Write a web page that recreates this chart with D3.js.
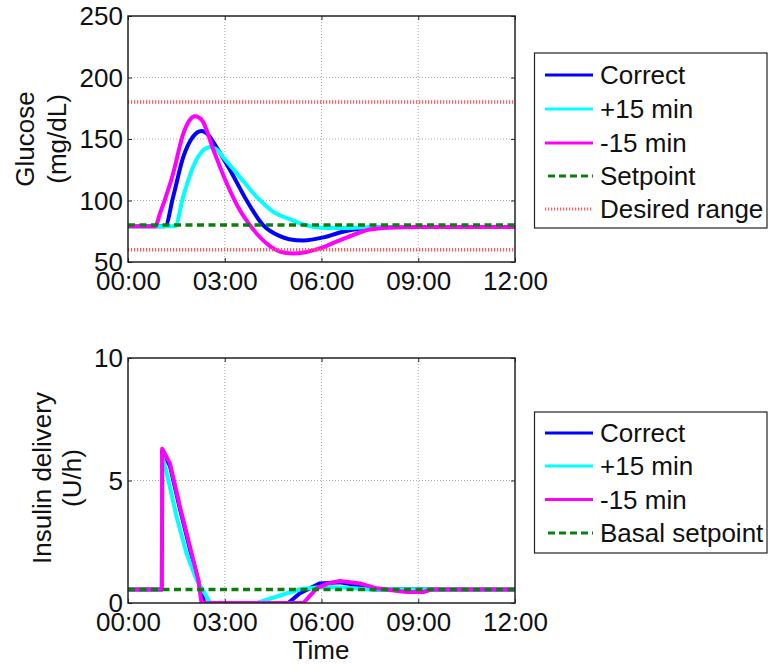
<!DOCTYPE html>
<html>
<head>
<meta charset="utf-8">
<script src="https://cdn.jsdelivr.net/npm/d3@7"></script>
<style>
  html, body { margin: 0; padding: 0; background: #fff; }
  svg { display: block; }
  text { font-family: "Liberation Sans", Arial, sans-serif; fill: #111; }
</style>
</head>
<body>
<svg id="chart" width="769" height="665"></svg>
<script>
// ---------------- DATA ----------------
const timeTicks = [0, 3, 6, 9, 12];
const timeTickLabels = ["00:00", "03:00", "06:00", "09:00", "12:00"];
const glucoseTicks = [50, 100, 150, 200, 250];
const insulinTicks = [0, 5, 10];

const seriesNames = ["Correct", "+15 min", "-15 min"];
const seriesColors = ["#0000ff", "#00ffff", "#ff00ff"];

const glucoseSetpoint = 80;
const desiredRange = [60, 180];
const basalSetpoint = 0.55;

// glucose [time h, mg/dL]
const glucoseCorrect = [
  [0, 79], [1.15, 79], [1.4, 103], [1.71, 135], [2.02, 152], [2.28, 156.5], [2.5, 153],
  [2.75, 143], [3.16, 125], [3.68, 100], [4.19, 80], [4.71, 71], [5.0, 68.5], [5.43, 67.5],
  [6.06, 70], [6.57, 74], [7.0, 76.5], [7.7, 78.3], [9, 78.5], [12, 78.5]
];
const glucosePlus15 = [
  [0, 79], [1.46, 79], [1.71, 103], [2.02, 127.5], [2.34, 141], [2.54, 143.5], [2.75, 141.5],
  [2.96, 135], [3.47, 119], [3.99, 103], [4.5, 91], [5.0, 85], [5.5, 80], [6.0, 77.8],
  [6.5, 77.6], [7.5, 78.2], [9, 78.5], [12, 78.5]
];
const glucoseMinus15 = [
  [0, 79], [0.84, 79], [1.0, 90], [1.4, 122], [1.71, 154], [1.9, 165], [2.08, 168.5],
  [2.3, 165], [2.65, 141], [3.06, 114], [3.47, 92], [3.78, 80], [4.3, 65], [4.71, 58.5],
  [5.1, 57], [5.5, 58], [5.95, 61], [6.5, 67], [6.8, 70], [7.5, 76.5], [8.4, 78.3],
  [9, 78.5], [12, 78.5]
];

// insulin [time h, U/h]
const insulinCorrect = [
  [0, 0.55], [1.05, 0.55], [1.06, 6.2], [1.3, 5.6], [1.61, 3.85], [1.92, 2.2], [2.18, 0.9],
  [2.37, 0], [4.97, 0], [5.33, 0.4], [5.95, 0.8], [6.57, 0.85], [7.2, 0.7], [7.6, 0.55], [12, 0.55]
];
const insulinPlus15 = [
  [0, 0.55], [1.05, 0.55], [1.06, 6.0], [1.2, 5.3], [1.51, 3.5], [1.82, 2.0], [2.13, 0.94],
  [2.44, 0.26], [2.55, 0], [3.99, 0], [5.33, 0.56], [6.0, 0.65], [6.8, 0.62], [7.5, 0.55], [12, 0.55]
];
const insulinMinus15 = [
  [0, 0.55], [1.05, 0.55], [1.06, 6.3], [1.3, 5.7], [1.61, 3.93], [1.92, 2.3], [2.18, 0.94],
  [2.28, 0], [5.44, 0], [5.85, 0.6], [6.2, 0.8], [6.57, 0.9], [7.19, 0.8], [7.71, 0.6],
  [8.3, 0.5], [8.64, 0.45], [9.16, 0.45], [9.4, 0.55], [12, 0.55]
];

const glucoseSeries = [glucoseCorrect, glucosePlus15, glucoseMinus15];
const insulinSeries = [insulinCorrect, insulinPlus15, insulinMinus15];

const topLegendLabels = ["Correct", "+15 min", "-15 min", "Setpoint", "Desired range"];
const bottomLegendLabels = ["Correct", "+15 min", "-15 min", "Basal setpoint"];

// ---------------- DRAW ----------------
const svg = d3.select("#chart");
const FONT = 26;
const GREEN = "#0a7f0a";
const RED = "#ff5a5a";

function drawPanel(cfg) {
  const x = d3.scaleLinear().domain([0, 12]).range([cfg.left, cfg.right]);
  const y = d3.scaleLinear().domain(cfg.yDomain).range([cfg.bottom, cfg.top]);
  const g = svg.append("g");

  // grid
  g.selectAll(".vgrid").data(timeTicks.slice(1, -1)).enter().append("line")
    .attr("x1", d => x(d)).attr("x2", d => x(d))
    .attr("y1", cfg.top).attr("y2", cfg.bottom)
    .attr("stroke", "#aaa").attr("stroke-width", 1).attr("stroke-dasharray", "1,2");
  g.selectAll(".hgrid").data(cfg.yTicks.slice(1, -1)).enter().append("line")
    .attr("x1", cfg.left).attr("x2", cfg.right)
    .attr("y1", d => y(d)).attr("y2", d => y(d))
    .attr("stroke", "#aaa").attr("stroke-width", 1).attr("stroke-dasharray", "1,2");

  const clipId = "clip" + cfg.id;
  svg.append("clipPath").attr("id", clipId).append("rect")
    .attr("x", cfg.left).attr("y", cfg.top)
    .attr("width", cfg.right - cfg.left).attr("height", cfg.bottom - cfg.top);
  const plot = g.append("g").attr("clip-path", `url(#${clipId})`);

  const line = d3.line().x(d => x(d[0])).y(d => y(d[1])).curve(cfg.curve);
  cfg.series.forEach((s, i) => {
    plot.append("path").datum(s)
      .attr("d", line)
      .attr("fill", "none")
      .attr("stroke", seriesColors[i])
      .attr("stroke-width", 4)
      .attr("stroke-linejoin", "round");
  });

  // reference lines
  (cfg.redLines || []).forEach(v => {
    plot.append("line")
      .attr("x1", cfg.left).attr("x2", cfg.right)
      .attr("y1", y(v)).attr("y2", y(v))
      .attr("stroke", RED).attr("stroke-width", 3.5).attr("stroke-dasharray", "1.2,1.8");
  });
  plot.append("line")
    .attr("x1", cfg.left).attr("x2", cfg.right)
    .attr("y1", y(cfg.green)).attr("y2", y(cfg.green))
    .attr("stroke", GREEN).attr("stroke-width", 3.5).attr("stroke-dasharray", "7,4.5");

  // axes
  const ax = g.append("g").attr("transform", `translate(0,${cfg.bottom})`)
    .call(d3.axisBottom(x).tickValues(timeTicks)
      .tickFormat((d, i) => timeTickLabels[i]).tickSizeInner(-4).tickSizeOuter(0).tickPadding(10));
  const ay = g.append("g").attr("transform", `translate(${cfg.left},0)`)
    .call(d3.axisLeft(y).tickValues(cfg.yTicks).tickFormat(d3.format("d"))
      .tickSizeInner(-4).tickSizeOuter(0).tickPadding(5));
  const at = g.append("g").attr("transform", `translate(0,${cfg.top})`)
    .call(d3.axisTop(x).tickValues(timeTicks).tickFormat("").tickSizeInner(-4).tickSizeOuter(0));
  const ar = g.append("g").attr("transform", `translate(${cfg.right},0)`)
    .call(d3.axisRight(y).tickValues(cfg.yTicks).tickFormat("").tickSizeInner(-4).tickSizeOuter(0));
  [ax, ay, at, ar].forEach(a => {
    a.select(".domain").remove();
    a.selectAll("line").attr("stroke", "#222").attr("stroke-width", 1);
    a.selectAll("text").style("font-size", FONT + "px")
      .style("font-family", '"Liberation Sans", Arial, sans-serif').attr("fill", "#111");
  });
  ay.selectAll("text").attr("dy", "0.34em");

  g.append("rect")
    .attr("x", cfg.left).attr("y", cfg.top)
    .attr("width", cfg.right - cfg.left).attr("height", cfg.bottom - cfg.top)
    .attr("fill", "none").attr("stroke", "#222").attr("stroke-width", 1.5);

  // y label (two lines, rotated)
  cfg.yLabel.forEach((t, i) => {
    g.append("text")
      .attr("transform", `translate(${cfg.yLabelX[i]},${cfg.yLabelY}) rotate(-90)`)
      .attr("text-anchor", "middle")
      .attr("dy", "0.36em")
      .style("font-size", FONT + "px")
      .text(t);
  });
  return { x, y };
}

function drawLegend(cfg) {
  const g = svg.append("g");
  g.append("rect")
    .attr("x", cfg.x).attr("y", cfg.y).attr("width", cfg.w).attr("height", cfg.h)
    .attr("fill", "#fff").attr("stroke", "#222").attr("stroke-width", 1.2);
  cfg.labels.forEach((lab, i) => {
    const cy = cfg.rows[i];
    const ln = g.append("line").attr("x1", 545).attr("x2", 593).attr("y1", cy).attr("y2", cy);
    if (i < 3) {
      ln.attr("stroke", seriesColors[i]).attr("stroke-width", 3);
    } else if (i === 3) {
      ln.attr("x1", 548).attr("stroke", GREEN).attr("stroke-width", 3).attr("stroke-dasharray", "7,4");
    } else {
      ln.attr("stroke", RED).attr("stroke-width", 3).attr("stroke-dasharray", "1.2,1.8");
    }
    g.append("text").attr("x", 600).attr("y", cy + 9)
      .style("font-size", "26px").text(lab);
  });
}

drawPanel({
  id: "top", left: 128, right: 515, top: 16, bottom: 262,
  yDomain: [50, 250], yTicks: glucoseTicks, series: glucoseSeries,
  curve: d3.curveMonotoneX, green: glucoseSetpoint, redLines: desiredRange,
  yLabel: ["Glucose", "(mg/dL)"], yLabelX: [25, 57], yLabelY: 139
});
drawPanel({
  id: "bot", left: 128, right: 515, top: 358, bottom: 603,
  yDomain: [0, 10], yTicks: insulinTicks, series: insulinSeries,
  curve: d3.curveLinear, green: basalSetpoint, redLines: [],
  yLabel: ["Insulin delivery", "(U/h)"], yLabelX: [42, 72], yLabelY: 478
});

svg.append("text").attr("x", 321).attr("y", 659).attr("text-anchor", "middle")
  .style("font-size", FONT + "px").text("Time");

drawLegend({ x: 534.5, y: 53, w: 232.5, h: 175, labels: topLegendLabels,
  rows: [75, 109, 143, 176, 209] });
drawLegend({ x: 534.5, y: 412, w: 232.5, h: 141, labels: bottomLegendLabels,
  rows: [433, 466, 499.5, 533] });
</script>
</body>
</html>
